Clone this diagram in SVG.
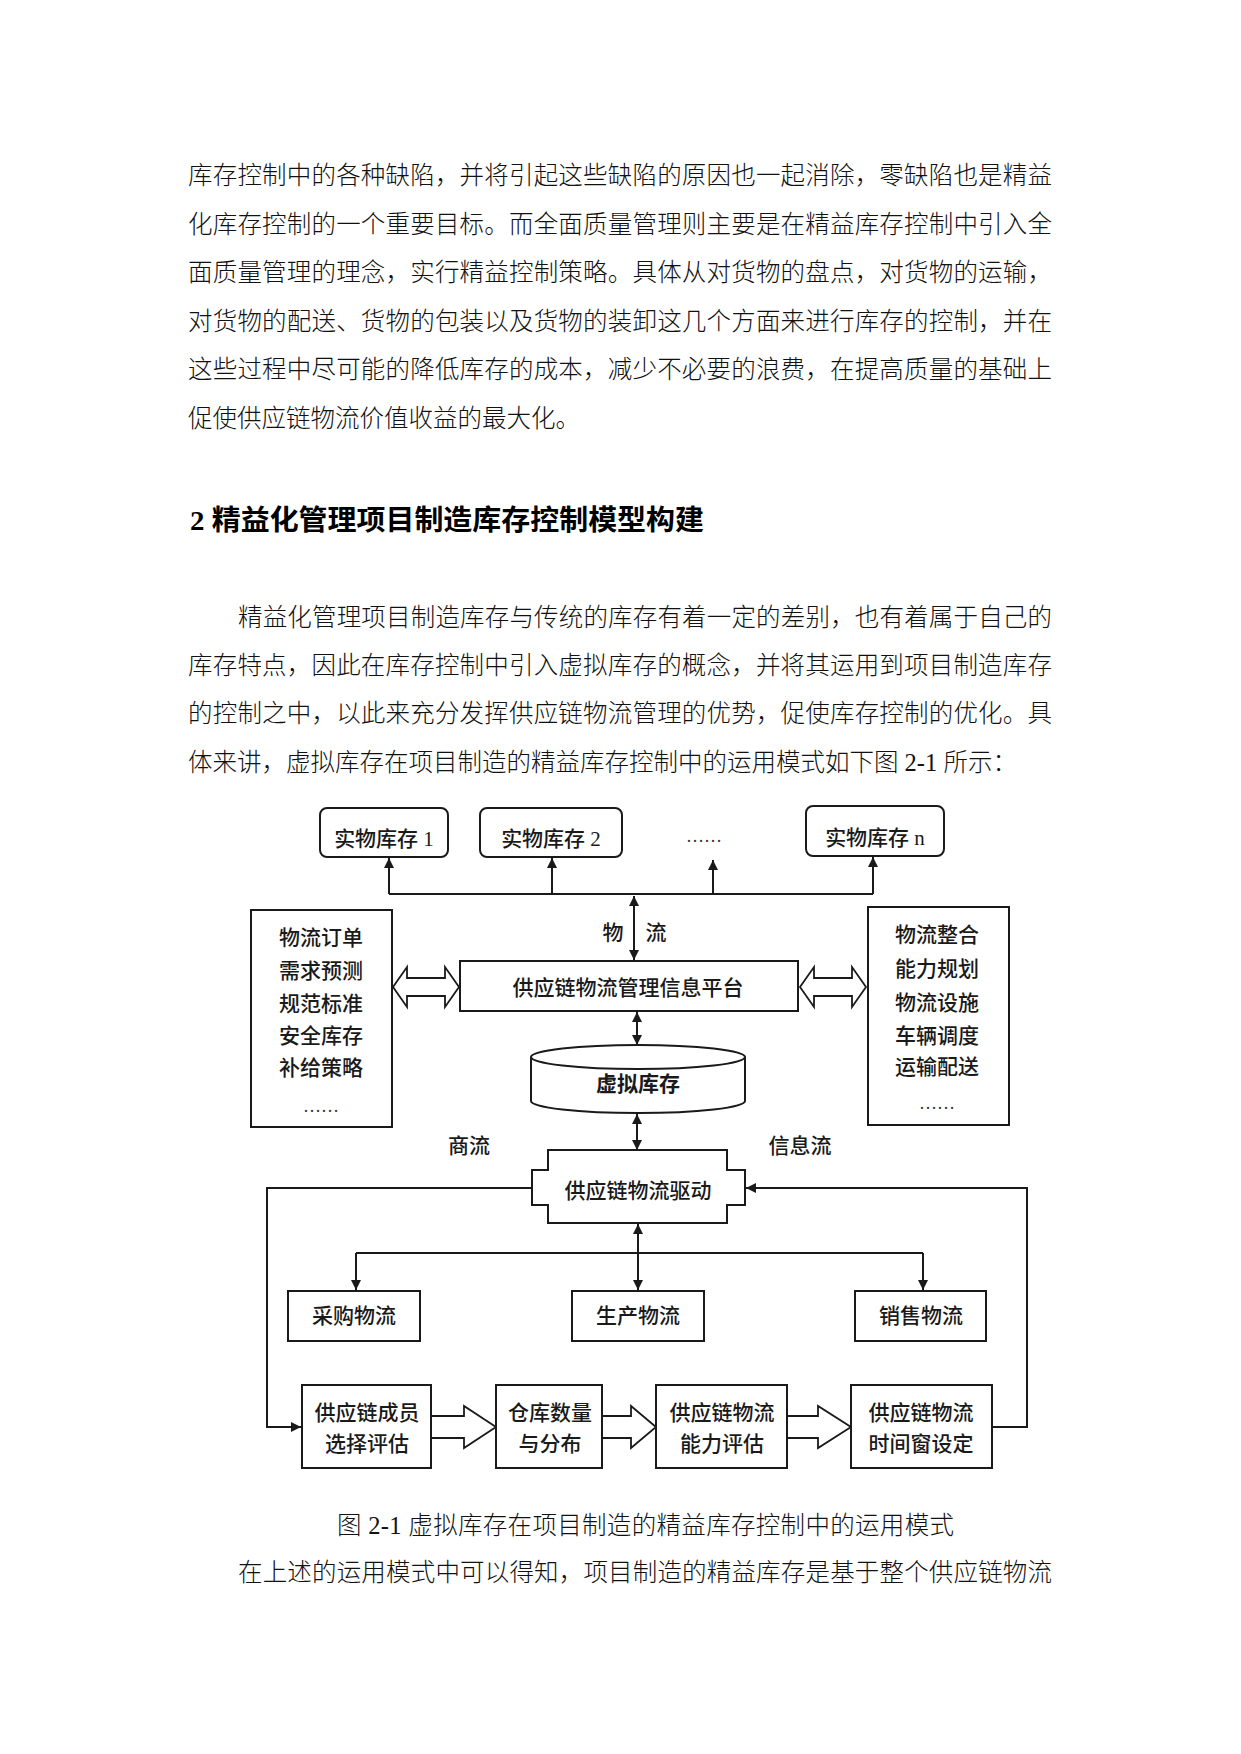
<svg xmlns="http://www.w3.org/2000/svg" width="1241" height="1754" viewBox="0 0 1241 1754">
<style>
.body{font-family:"Liberation Serif","Noto Sans CJK SC",serif;font-size:24.5px;fill:#111;font-weight:300}
.head{font-family:"Liberation Serif","Noto Sans CJK SC",serif;font-size:28px;font-weight:bold;fill:#000}
.lbl{font-family:"Liberation Serif","Noto Sans CJK SC",sans-serif;font-size:21px;fill:#1a1a1a;text-anchor:middle;font-weight:500}
.dots{font-family:"Liberation Serif","Noto Sans CJK SC",sans-serif;font-size:18px;fill:#333;text-anchor:middle}
.bx{fill:#fff;stroke:#1a1a1a;stroke-width:2}
.ln{fill:none;stroke:#1a1a1a;stroke-width:2}
.blk{fill:#fff;stroke:#1a1a1a;stroke-width:1.8;stroke-linejoin:miter}
</style>
<defs>
<marker id="ah" viewBox="0 0 10 10" refX="10" refY="5" markerWidth="5" markerHeight="6" markerUnits="strokeWidth" orient="auto-start-reverse">
<path d="M0,0 L10,5 L0,10 Z" fill="#1a1a1a"/>
</marker>
</defs>
<rect width="1241" height="1754" fill="#fff"/>

<g id="text-body">
<text class="body" x="188" y="184" textLength="864" lengthAdjust="spacing">库存控制中的各种缺陷，并将引起这些缺陷的原因也一起消除，零缺陷也是精益</text>
<text class="body" x="188" y="232.5" textLength="864" lengthAdjust="spacing">化库存控制的一个重要目标。而全面质量管理则主要是在精益库存控制中引入全</text>
<text class="body" x="188" y="281" textLength="864" lengthAdjust="spacing">面质量管理的理念，实行精益控制策略。具体从对货物的盘点，对货物的运输，</text>
<text class="body" x="188" y="329.5" textLength="864" lengthAdjust="spacing">对货物的配送、货物的包装以及货物的装卸这几个方面来进行库存的控制，并在</text>
<text class="body" x="188" y="378" textLength="864" lengthAdjust="spacing">这些过程中尽可能的降低库存的成本，减少不必要的浪费，在提高质量的基础上</text>
<text class="body" x="188" y="426.5">促使供应链物流价值收益的最大化。</text>
<text class="head" x="190" y="530" textLength="514" lengthAdjust="spacingAndGlyphs">2 精益化管理项目制造库存控制模型构建</text>
<text class="body" x="238" y="626" textLength="814" lengthAdjust="spacing">精益化管理项目制造库存与传统的库存有着一定的差别，也有着属于自己的</text>
<text class="body" x="188" y="674" textLength="864" lengthAdjust="spacing">库存特点，因此在库存控制中引入虚拟库存的概念，并将其运用到项目制造库存</text>
<text class="body" x="188" y="722" textLength="864" lengthAdjust="spacing">的控制之中，以此来充分发挥供应链物流管理的优势，促使库存控制的优化。具</text>
<text class="body" x="188" y="771">体来讲，虚拟库存在项目制造的精益库存控制中的运用模式如下图 2-1 所示：</text>
<text class="body" x="337" y="1534" textLength="617" lengthAdjust="spacing">图 2-1 虚拟库存在项目制造的精益库存控制中的运用模式</text>
<text class="body" x="238" y="1581" textLength="814" lengthAdjust="spacing">在上述的运用模式中可以得知，项目制造的精益库存是基于整个供应链物流</text>
</g>

<g id="connectors">
<path class="ln" d="M389,894 L873,894"/>
<path class="ln" d="M389,894 L389,858" marker-end="url(#ah)"/>
<path class="ln" d="M552,894 L552,858" marker-end="url(#ah)"/>
<path class="ln" d="M713,894 L713,860" marker-end="url(#ah)"/>
<path class="ln" d="M873,894 L873,857" marker-end="url(#ah)"/>
<path class="ln" d="M634,896 L634,960" marker-start="url(#ah)" marker-end="url(#ah)"/>
<path class="ln" d="M637,1012 L637,1045" marker-start="url(#ah)" marker-end="url(#ah)"/>
<path class="ln" d="M637,1114 L637,1150" marker-start="url(#ah)" marker-end="url(#ah)"/>
<path class="blk" d="M393,987 L407,967 L407,978 L445,978 L445,967 L459,987 L445,1007 L445,996 L407,996 L407,1007 Z"/>
<path class="blk" d="M800,987 L814,967 L814,978 L852,978 L852,967 L866,987 L852,1007 L852,996 L814,996 L814,1007 Z"/>
<path class="ln" d="M638,1224 L638,1290" marker-start="url(#ah)" marker-end="url(#ah)"/>
<path class="ln" d="M356,1253 L923,1253"/>
<path class="ln" d="M356,1253 L356,1290" marker-end="url(#ah)"/>
<path class="ln" d="M923,1253 L923,1290" marker-end="url(#ah)"/>
<path class="ln" d="M532,1188 L267,1188 L267,1427 L301,1427" marker-end="url(#ah)"/>
<path class="ln" d="M992,1427 L1027,1427 L1027,1188 L746,1188" marker-end="url(#ah)"/>
<path class="blk" d="M431,1416 L464,1416 L464,1406 L496,1427 L464,1448 L464,1438 L431,1438"/>
<path class="blk" d="M602,1416 L631,1416 L631,1406 L656,1427 L631,1448 L631,1438 L602,1438"/>
<path class="blk" d="M787,1416 L818,1416 L818,1406 L851,1427 L818,1448 L818,1438 L787,1438"/>
</g>

<g id="n-stock1"><rect class="bx" x="320" y="808" width="128" height="49" rx="7"/><text class="lbl" x="384" y="846">实物库存 1</text></g>
<g id="n-stock2"><rect class="bx" x="480" y="808" width="142" height="49" rx="7"/><text class="lbl" x="551" y="846">实物库存 2</text></g>
<g id="n-dots"><text class="dots" x="704" y="842">……</text></g>
<g id="n-stockn"><rect class="bx" x="806" y="806" width="138" height="50" rx="7"/><text class="lbl" x="875" y="845">实物库存 n</text></g>
<g id="l-wuliu"><text class="lbl" x="613" y="940">物</text><text class="lbl" x="656" y="940">流</text></g>
<g id="n-platform"><rect class="bx" x="460" y="961" width="338" height="50"/><text class="lbl" x="628" y="995">供应链物流管理信息平台</text></g>
<g id="n-left">
<rect class="bx" x="251" y="910" width="141" height="217"/>
<text class="lbl" x="321" y="945">物流订单</text>
<text class="lbl" x="321" y="978">需求预测</text>
<text class="lbl" x="321" y="1011">规范标准</text>
<text class="lbl" x="321" y="1043">安全库存</text>
<text class="lbl" x="321" y="1075">补给策略</text>
<text class="dots" x="321" y="1112">……</text>
</g>
<g id="n-right">
<rect class="bx" x="868" y="907" width="141" height="218"/>
<text class="lbl" x="937" y="942">物流整合</text>
<text class="lbl" x="937" y="976">能力规划</text>
<text class="lbl" x="937" y="1010">物流设施</text>
<text class="lbl" x="937" y="1043">车辆调度</text>
<text class="lbl" x="937" y="1074">运输配送</text>
<text class="dots" x="937" y="1109">……</text>
</g>
<g id="n-virtual">
<path class="bx" d="M531,1057 L531,1101 A107,12 0 0 0 745,1101 L745,1057"/>
<ellipse class="bx" cx="638" cy="1057" rx="107" ry="12"/>
<text class="lbl" x="638" y="1091" style="font-weight:bold">虚拟库存</text>
</g>
<g id="l-flow"><text class="lbl" x="469" y="1153">商流</text><text class="lbl" x="800" y="1153">信息流</text></g>
<g id="n-driver">
<path class="bx" d="M548,1150 L727,1150 L727,1170 L745,1170 L745,1205 L727,1205 L727,1223 L548,1223 L548,1205 L532,1205 L532,1170 L548,1170 Z"/>
<text class="lbl" x="638" y="1198">供应链物流驱动</text>
</g>
<g id="n-purchase"><rect class="bx" x="288" y="1291" width="132" height="50"/><text class="lbl" x="354" y="1323">采购物流</text></g>
<g id="n-produce"><rect class="bx" x="572" y="1291" width="132" height="50"/><text class="lbl" x="638" y="1323">生产物流</text></g>
<g id="n-sales"><rect class="bx" x="855" y="1291" width="131" height="50"/><text class="lbl" x="921" y="1323">销售物流</text></g>
<g id="n-b1"><rect class="bx" x="302" y="1385" width="129" height="83"/><text class="lbl" x="367" y="1420">供应链成员</text><text class="lbl" x="367" y="1451">选择评估</text></g>
<g id="n-b2"><rect class="bx" x="496" y="1385" width="106" height="83"/><text class="lbl" x="550" y="1420">仓库数量</text><text class="lbl" x="550" y="1451">与分布</text></g>
<g id="n-b3"><rect class="bx" x="656" y="1385" width="131" height="83"/><text class="lbl" x="722" y="1420">供应链物流</text><text class="lbl" x="722" y="1451">能力评估</text></g>
<g id="n-b4"><rect class="bx" x="851" y="1385" width="141" height="83"/><text class="lbl" x="921" y="1420">供应链物流</text><text class="lbl" x="921" y="1451">时间窗设定</text></g>
</svg>
